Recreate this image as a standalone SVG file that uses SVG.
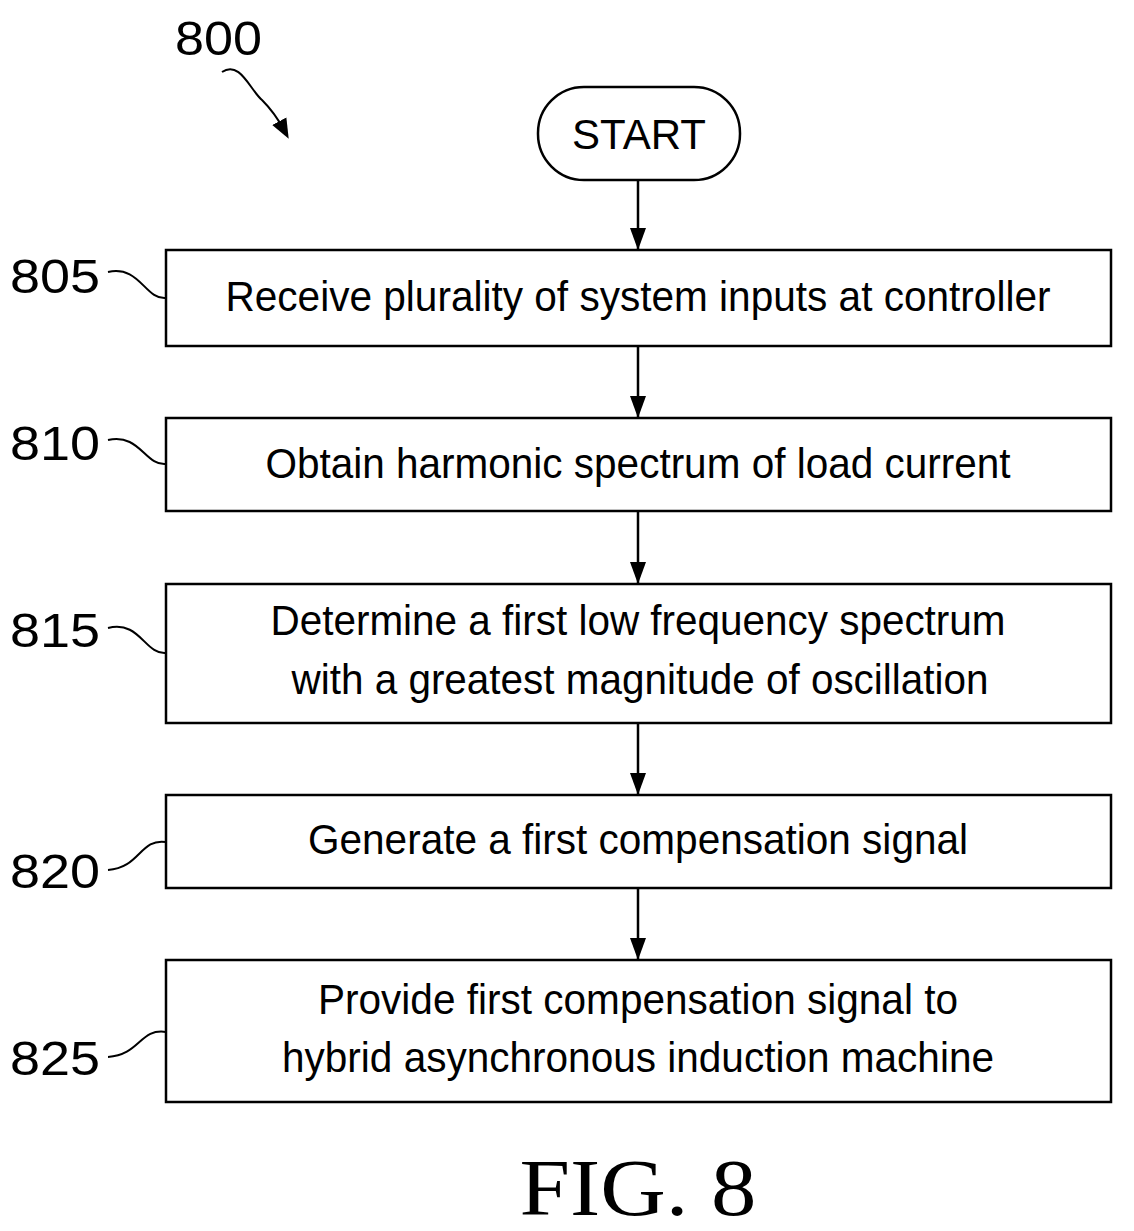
<svg xmlns="http://www.w3.org/2000/svg" width="1134" height="1231" viewBox="0 0 1134 1231">
<style>
.b{fill:#fff;stroke:#000;stroke-width:2.5}
.t{font-family:"Liberation Sans",Arial,sans-serif;font-size:42px;fill:#000;text-anchor:middle}
.n{font-family:"Liberation Sans",Arial,sans-serif;font-size:48px;fill:#000}
.c{fill:none;stroke:#000;stroke-width:2}
.a{stroke:#000;stroke-width:2.5;marker-end:url(#ah)}
</style>
<defs><marker id="ah" markerWidth="22" markerHeight="16" refX="22" refY="8" orient="auto" markerUnits="userSpaceOnUse" viewBox="0 0 22 16"><path d="M0,0 L22,8 L0,16z" fill="#000"/></marker>
<marker id="ah2" markerWidth="20" markerHeight="20" refX="10" refY="10" orient="auto" markerUnits="userSpaceOnUse" viewBox="0 0 20 20"><path d="M0,2 L20,10 L0,18z" fill="#000"/></marker></defs>
<rect width="1134" height="1231" fill="#fff"/>
<g id="label800"><text class="n" x="175" y="55" textLength="87" lengthAdjust="spacingAndGlyphs">800</text><path class="c" d="M222,72 C240,60 250,90 262,100 C270,108 276,115 284,130" marker-end="url(#ah2)"/></g>
<g id="start"><rect class="b" x="538" y="87" width="202" height="93" rx="46"/><text class="t" x="639" y="149">START</text></g>
<g id="n805"><rect class="b" x="166" y="250" width="945" height="96"/><text class="t" x="638" y="311" textLength="825" lengthAdjust="spacingAndGlyphs">Receive plurality of system inputs at controller</text><text class="n" x="10" y="293" textLength="90" lengthAdjust="spacingAndGlyphs">805</text><path class="c" d="M108,272 C140,265 145,300 166,298"/></g>
<g id="n810"><rect class="b" x="166" y="418" width="945" height="93"/><text class="t" x="638" y="478" textLength="745" lengthAdjust="spacingAndGlyphs">Obtain harmonic spectrum of load current</text><text class="n" x="10" y="460" textLength="90" lengthAdjust="spacingAndGlyphs">810</text><path class="c" d="M108,440 C140,433 145,466 166,464"/></g>
<g id="n815"><rect class="b" x="166" y="584" width="945" height="139"/><text class="t" x="638" y="635" textLength="735" lengthAdjust="spacingAndGlyphs">Determine a first low frequency spectrum</text><text class="t" x="640" y="694" textLength="697" lengthAdjust="spacingAndGlyphs">with a greatest magnitude of oscillation</text><text class="n" x="10" y="647" textLength="90" lengthAdjust="spacingAndGlyphs">815</text><path class="c" d="M108,628 C140,620 145,655 166,653"/></g>
<g id="n820"><rect class="b" x="166" y="795" width="945" height="93"/><text class="t" x="638" y="854" textLength="660" lengthAdjust="spacingAndGlyphs">Generate a first compensation signal</text><text class="n" x="10" y="888" textLength="90" lengthAdjust="spacingAndGlyphs">820</text><path class="c" d="M108,870 C140,868 140,838 166,842"/></g>
<g id="n825"><rect class="b" x="166" y="960" width="945" height="142"/><text class="t" x="638" y="1014" textLength="640" lengthAdjust="spacingAndGlyphs">Provide first compensation signal to</text><text class="t" x="638" y="1072" textLength="712" lengthAdjust="spacingAndGlyphs">hybrid asynchronous induction machine</text><text class="n" x="10" y="1075" textLength="90" lengthAdjust="spacingAndGlyphs">825</text><path class="c" d="M108,1057 C140,1055 140,1028 166,1032"/></g>
<g id="connectors">
<line class="a" x1="638" y1="180" x2="638" y2="250"/>
<line class="a" x1="638" y1="346" x2="638" y2="418"/>
<line class="a" x1="638" y1="511" x2="638" y2="584"/>
<line class="a" x1="638" y1="723" x2="638" y2="795"/>
<line class="a" x1="638" y1="888" x2="638" y2="960"/>
</g>
<text x="638" y="1215" font-family="Liberation Serif,serif" font-size="80" text-anchor="middle" textLength="237" lengthAdjust="spacingAndGlyphs">FIG. 8</text>
</svg>
